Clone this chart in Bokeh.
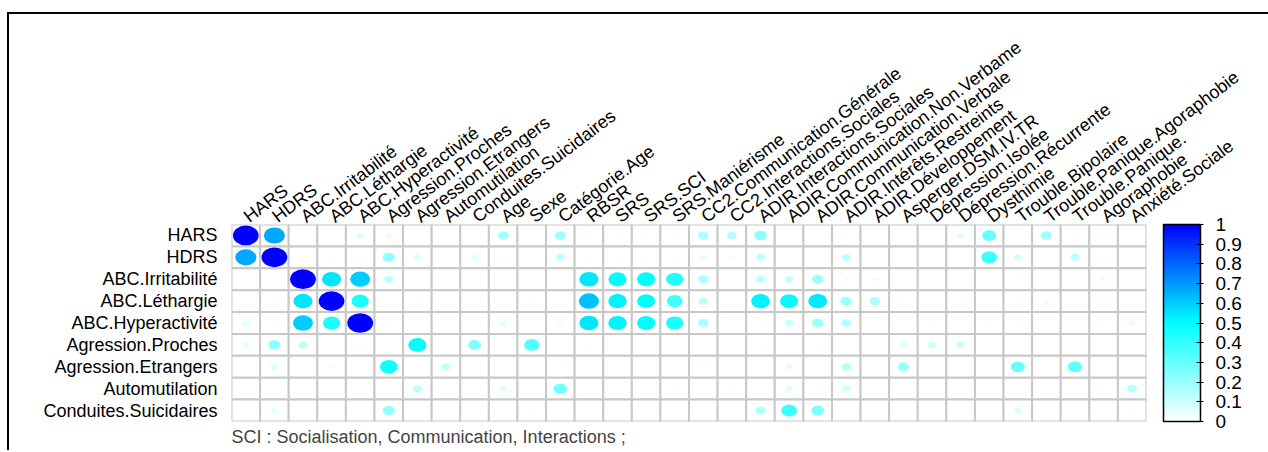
import numpy as np
from bokeh.plotting import figure
from bokeh.models import (ColumnDataSource, LinearColorMapper, ColorBar, FixedTicker,
                          NumeralTickFormatter, FactorRange, Title)
from bokeh.embed import file_html
from bokeh.resources import INLINE

# ---------------- data ----------------
columns = ["HARS", "HDRS", "ABC.Irritabilité", "ABC.Léthargie", "ABC.Hyperactivité",
           "Agression.Proches", "Agression.Etrangers", "Automutilation", "Conduites.Suicidaires",
           "Age", "Sexe", "Catégorie.Age", "RBSR", "SRS", "SRS.SCI", "SRS.Maniérisme",
           "CC2.Communication.Générale", "CC2.Interactions.Sociales", "ADIR.Interactions.Sociales",
           "ADIR.Communication.Non.Verbame", "ADIR.Communication.Verbale", "ADIR.Intérêts.Restreints",
           "ADIR.Développement", "Asperger.DSM.IV.TR", "Dépression.Isolée", "Dépression.Récurrente",
           "Dysthimie", "Trouble.Bipolaire", "Trouble.Panique.Agoraphobie", "Trouble.Panique.",
           "Agoraphobie", "Anxiété.Sociale"]

rows = ["HARS", "HDRS", "ABC.Irritabilité", "ABC.Léthargie", "ABC.Hyperactivité",
        "Agression.Proches", "Agression.Etrangers", "Automutilation", "Conduites.Suicidaires"]

hars = [1.0, 0.67, 0.01, 0.01, 0.08, 0.05, 0.01, 0.01,
        0.01, 0.18, 0.01, 0.19, 0.03, 0.03, 0.03, 0.03,
        0.17, 0.15, 0.23, 0.01, 0.01, 0.02, 0.01, 0.01,
        0.01, 0.07, 0.30, 0.01, 0.19, 0.02, 0.03, 0.01]
hdrs = [0.67, 1.0, 0.01, 0.02, 0.02, 0.22, 0.08, 0.01,
        0.07, 0.03, 0.01, 0.13, 0.02, 0.03, 0.03, 0.03,
        0.07, 0.03, 0.13, 0.01, 0.01, 0.13, 0.01, 0.01,
        0.01, 0.01, 0.38, 0.09, 0.01, 0.13, 0.03, 0.01]
abc_irritabilite = [0.01, 0.01, 1.0, 0.55, 0.60, 0.13, 0.01, 0.01,
                    0.01, 0.01, 0.01, 0.01, 0.55, 0.50, 0.50, 0.44,
                    0.17, 0.01, 0.13, 0.11, 0.20, 0.04, 0.04, 0.01,
                    0.01, 0.01, 0.01, 0.03, 0.01, 0.01, 0.04, 0.01]
abc_lethargie = [0.01, 0.02, 0.55, 1.0, 0.45, 0.01, 0.02, 0.01,
                 0.01, 0.01, 0.03, 0.01, 0.62, 0.52, 0.50, 0.38,
                 0.14, 0.01, 0.52, 0.50, 0.54, 0.20, 0.17, 0.02,
                 0.01, 0.02, 0.01, 0.03, 0.05, 0.01, 0.03, 0.01]
abc_hyperactivite = [0.07, 0.02, 0.60, 0.45, 1.0, 0.03, 0.01, 0.01,
                     0.01, 0.07, 0.01, 0.04, 0.55, 0.52, 0.50, 0.45,
                     0.17, 0.01, 0.02, 0.11, 0.20, 0.15, 0.01, 0.01,
                     0.02, 0.01, 0.02, 0.02, 0.01, 0.01, 0.02, 0.06]
agression_proches = [0.07, 0.22, 0.13, 0.01, 0.03, 0.01, 0.50, 0.01,
                     0.25, 0.01, 0.35, 0.01, 0.02, 0.01, 0.01, 0.01,
                     0.01, 0.01, 0.02, 0.01, 0.02, 0.01, 0.0, 0.08,
                     0.10, 0.11, 0.01, 0.01, 0.0, 0.01, 0.0, 0.01]
agression_etrangers = [0.01, 0.08, 0.01, 0.03, 0.01, 0.48, 0.01, 0.13,
                       0.01, 0.01, 0.01, 0.02, 0.01, 0.01, 0.01, 0.01,
                       0.03, 0.01, 0.01, 0.07, 0.01, 0.15, 0.01, 0.20,
                       0.01, 0.01, 0.01, 0.30, 0.01, 0.31, 0.01, 0.01]
automutilation = [0.01, 0.01, 0.01, 0.01, 0.01, 0.01, 0.13, 0.01,
                  0.01, 0.07, 0.01, 0.28, 0.01, 0.01, 0.01, 0.02,
                  0.01, 0.03, 0.01, 0.07, 0.02, 0.10, 0.01, 0.01,
                  0.01, 0.01, 0.01, 0.01, 0.01, 0.01, 0.02, 0.15]
conduites_suicidaires = [0.01, 0.07, 0.01, 0.01, 0.01, 0.22, 0.01, 0.01,
                         0.01, 0.01, 0.03, 0.01, 0.01, 0.01, 0.01, 0.01,
                         0.01, 0.01, 0.16, 0.38, 0.25, 0.01, 0.01, 0.01,
                         0.01, 0.01, 0.01, 0.08, 0.01, 0.01, 0.01, 0.03]

matrix = [hars, hdrs, abc_irritabilite, abc_lethargie, abc_hyperactivite,
          agression_proches, agression_etrangers, automutilation, conduites_suicidaires]

cbar_ticks = [0, 0.1, 0.2, 0.3, 0.4, 0.5, 0.6, 0.7, 0.8, 0.9, 1]
caption = "SCI : Socialisation, Communication, Interactions ;"

# ---------------- build ----------------
xs, ys, vs = [], [], []
for r, vals in zip(rows, matrix):
    for c, v in zip(columns, vals):
        xs.append(c)
        ys.append(r)
        vs.append(v)
vs = np.array(vs)
src = ColumnDataSource(dict(x=xs, y=ys, v=vs, d=0.9 * np.sqrt(vs)))

# palette white -> cyan -> blue
n = 256
t = np.linspace(0, 1, n)
pal = []
for tt in t:
    if tt <= 0.5:
        f = tt / 0.5
        rgb = (255 * (1 - f), 255, 255)
    else:
        f = (tt - 0.5) / 0.5
        rgb = (0, 255 * (1 - f), 255)
    pal.append("#%02x%02x%02x" % tuple(int(round(c)) for c in rgb))
mapper = LinearColorMapper(palette=pal, low=0, high=1)

FONT = "Liberation Sans"

p = figure(x_range=FactorRange(*columns), y_range=FactorRange(*reversed(rows)),
           frame_width=915, frame_height=197,
           min_border_left=222, min_border_right=122, min_border_top=210, min_border_bottom=29,
           x_axis_location="above", toolbar_location=None, tools="", output_backend="svg")

p.rect(x="x", y="y", width=1, height=1, source=src, fill_color="white",
       line_color="#c8c8c8", line_width=2)
p.ellipse(x="x", y="y", width="d", height="d", source=src,
          fill_color={"field": "v", "transform": mapper}, line_color=None)

p.xgrid.visible = False
p.ygrid.visible = False
p.outline_line_color = None
p.background_fill_color = "white"
p.border_fill_color = "white"

for ax in (p.xaxis[0], p.yaxis[0]):
    ax.axis_line_color = None
    ax.major_tick_line_color = None
    ax.minor_tick_line_color = None
    ax.major_tick_out = 0
    ax.major_tick_in = 0
    ax.major_label_text_font = FONT
    ax.major_label_text_font_size = "18px"
    ax.major_label_text_color = "black"
p.xaxis.major_label_orientation = 0.646
p.xaxis.major_label_standoff = 6
p.yaxis.major_label_standoff = 14

cb = ColorBar(color_mapper=mapper, width=37, height=197,
              ticker=FixedTicker(ticks=cbar_ticks),
              formatter=NumeralTickFormatter(format="0.[0]"),
              location=(17, 0), padding=0, margin=0,
              bar_line_color="black", bar_line_width=1.5,
              major_tick_line_color="black", major_tick_in=4, major_tick_out=3,
              minor_tick_line_color=None,
              label_standoff=12,
              major_label_text_font=FONT, major_label_text_font_size="19px",
              major_label_text_color="black",
              border_line_color=None, background_fill_color=None)
p.add_layout(cb, "right")

p.add_layout(Title(text=caption, align="left", text_font=FONT, text_font_size="18px",
                   text_font_style="normal", standoff=6), "below")

p.styles = {"position": "relative", "top": "12px", "left": "7px",
            "border-top": "2px solid #000", "border-left": "2px solid #000"}

open("out.html", "w").write(file_html(p, INLINE))
